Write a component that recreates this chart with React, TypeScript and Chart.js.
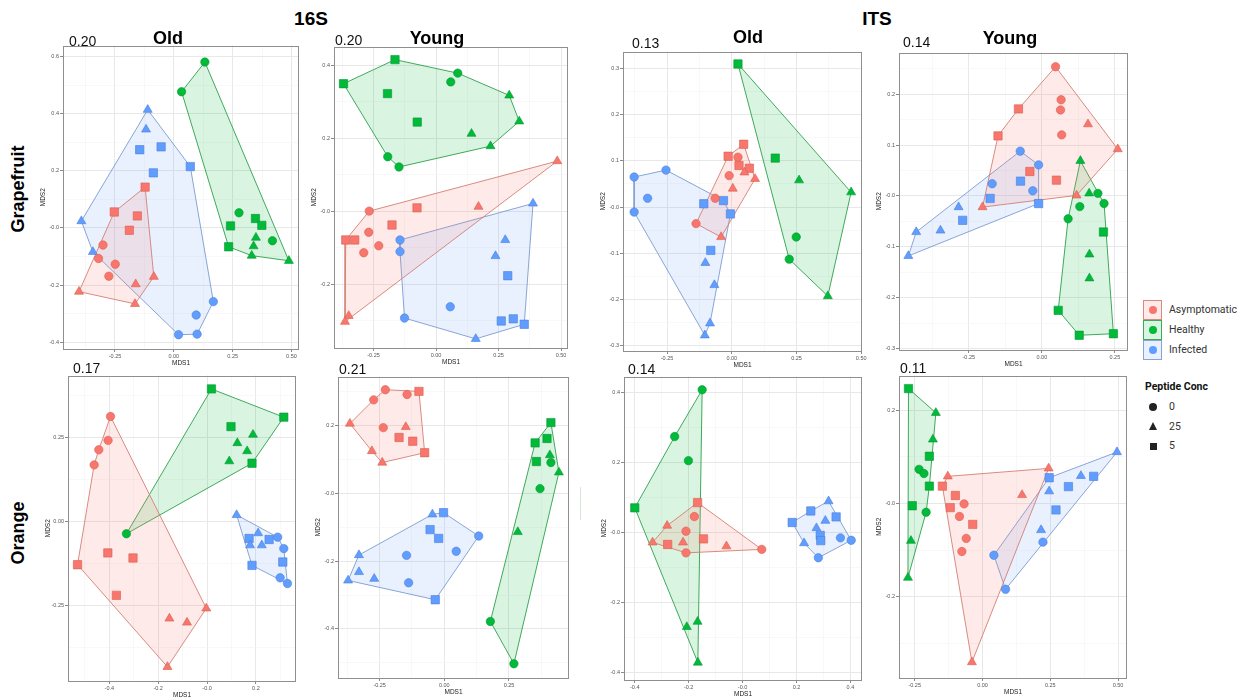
import React, { useEffect, useRef } from 'react';
import { Chart, registerables } from 'chart.js';
Chart.register(...registerables);

// ---------- categories ----------
const GROUPS = ['Asymptomatic', 'Healthy', 'Infected'];
const CONCS = [0, 25, 5];
const CONC_STYLE: Record<number, string> = { 0: 'circle', 25: 'triangle', 5: 'rect' };
const CONC_RADIUS: Record<number, number> = { 0: 4.2, 25: 5.2, 5: 5.9 };

const POINT_COLORS = ['#F8766D', '#00BA38', '#619CFF'];
const POINT_EDGES = ['#D8604F', '#08963A', '#4A80D8'];
const HULL_LINES = ['rgba(212,128,115,0.9)', 'rgba(45,160,75,0.9)', 'rgba(125,155,210,0.9)'];
const HULL_FILLS = ['rgba(248,118,109,0.15)', 'rgba(0,186,56,0.15)', 'rgba(97,156,255,0.14)'];

// ---------- data: [MDS1, MDS2, peptide conc] ----------
// 16S Grapefruit Old (stress 0.20)
const S16_GF_OLD_ASYM = [[-0.122,0.143,5],[-0.253,0.056,5],[-0.155,0.042,5],[-0.189,-0.008,5],[-0.301,-0.060,0],[-0.320,-0.107,0],[-0.249,-0.127,0],[-0.276,-0.169,0],[-0.085,-0.171,25],[-0.162,-0.197,25],[-0.403,-0.223,25],[-0.165,-0.266,25]];
const S16_GF_OLD_HEALTHY = [[0.132,0.581,0],[0.033,0.477,0],[0.277,0.053,0],[0.419,-0.045,0],[0.241,0.007,5],[0.347,0.033,5],[0.374,0.009,5],[0.233,-0.066,5],[0.349,-0.034,25],[0.339,-0.064,25],[0.331,-0.097,25],[0.489,-0.115,25]];
const S16_GF_OLD_INF = [[-0.111,0.414,25],[-0.118,0.345,25],[-0.145,0.274,5],[-0.054,0.284,5],[-0.087,0.193,5],[0.070,0.215,5],[-0.393,0.024,25],[-0.344,-0.084,25],[0.168,-0.258,0],[0.095,-0.305,0],[0.099,-0.372,0],[0.020,-0.374,0]];
// 16S Grapefruit Young (stress 0.20)
const S16_GF_YOUNG_ASYM = [[0.485,0.137,25],[0.170,0.012,25],[-0.076,0.009,5],[-0.176,-0.038,5],[-0.267,0.0,0],[-0.269,-0.058,0],[-0.361,-0.079,5],[-0.325,-0.079,5],[-0.229,-0.095,0],[-0.289,-0.114,0],[-0.349,-0.287,25],[-0.364,-0.303,25]];
const S16_GF_YOUNG_HEALTHY = [[-0.370,0.349,5],[-0.164,0.415,5],[-0.194,0.322,5],[-0.075,0.244,5],[0.087,0.378,0],[0.059,0.354,0],[0.293,0.317,25],[0.333,0.246,25],[0.142,0.212,25],[0.218,0.178,25],[-0.193,0.149,0],[-0.148,0.121,0]];
const S16_GF_YOUNG_INF = [[0.388,0.021,25],[0.277,-0.079,25],[0.238,-0.123,25],[0.287,-0.177,5],[-0.144,-0.079,0],[-0.144,-0.111,0],[0.057,-0.262,0],[-0.126,-0.293,0],[0.261,-0.301,5],[0.309,-0.295,5],[0.353,-0.310,5],[0.159,-0.350,25]];
// ITS Grapefruit Old (stress 0.13)
const ITS_GF_OLD_ASYM = [[0.046,0.136,5],[-0.014,0.110,5],[0.024,0.108,0],[0.028,0.090,5],[0.068,0.084,5],[0.049,0.075,25],[-0.010,0.068,0],[0.090,0.061,25],[0.004,0.040,25],[-0.064,0.019,0],[-0.138,-0.036,0],[-0.041,-0.065,25]];
const ITS_GF_OLD_HEALTHY = [[0.024,0.310,5],[0.168,0.106,5],[0.260,0.058,25],[0.461,0.032,25],[0.249,-0.065,0],[0.222,-0.113,0],[0.371,-0.193,25]];
const ITS_GF_OLD_INF = [[-0.377,0.065,0],[-0.254,0.080,0],[-0.325,0.019,0],[-0.377,-0.011,0],[-0.108,0.007,5],[-0.032,0.014,5],[-0.005,-0.015,5],[-0.081,-0.094,5],[-0.102,-0.121,25],[-0.067,-0.169,25],[-0.084,-0.252,25],[-0.104,-0.278,25]];
// ITS Grapefruit Young (stress 0.14)
const ITS_GF_YOUNG_ASYM = [[0.047,0.254,0],[0.066,0.189,0],[0.064,0.169,0],[-0.080,0.171,5],[0.158,0.141,25],[-0.150,0.118,5],[0.068,0.120,0],[0.260,0.092,25],[-0.041,0.048,5],[0.050,0.031,5],[0.119,0.001,25],[-0.203,-0.022,25]];
const ITS_GF_YOUNG_HEALTHY = [[0.132,0.069,25],[0.162,0.005,25],[0.192,0.005,0],[0.213,-0.015,0],[0.130,-0.021,0],[0.090,-0.045,0],[0.211,-0.071,5],[0.163,-0.115,25],[0.163,-0.162,25],[0.056,-0.225,5],[0.245,-0.271,5],[0.128,-0.274,5]];
const ITS_GF_YOUNG_INF = [[-0.074,0.088,0],[-0.011,0.061,0],[-0.170,0.024,0],[-0.073,0.029,5],[-0.031,0.010,0],[-0.177,-0.005,5],[-0.011,-0.015,5],[-0.285,-0.022,25],[-0.271,-0.048,5],[-0.347,-0.068,25],[-0.430,-0.071,25],[-0.457,-0.118,25]];
// 16S Orange Old (stress 0.17)
const S16_OR_OLD_ASYM = [[-0.395,0.312,0],[-0.405,0.241,0],[-0.443,0.213,0],[-0.462,0.168,0],[-0.406,-0.094,5],[-0.303,-0.109,5],[-0.530,-0.129,5],[-0.371,-0.220,5],[-0.003,-0.259,25],[-0.154,-0.289,25],[-0.082,-0.301,25],[-0.162,-0.433,25]];
const S16_OR_OLD_HEALTHY = [[0.018,0.394,5],[0.314,0.310,5],[0.098,0.282,5],[0.188,0.258,25],[0.124,0.233,25],[0.164,0.209,25],[0.091,0.179,25],[0.184,0.173,5],[-0.330,-0.037,0]];
const S16_OR_OLD_INF = [[0.121,0.019,25],[0.209,-0.035,25],[0.172,-0.051,5],[0.176,-0.071,25],[0.224,-0.071,25],[0.254,-0.054,5],[0.289,-0.047,0],[0.314,-0.081,0],[0.310,-0.121,5],[0.184,-0.131,5],[0.299,-0.168,0],[0.329,-0.185,0]];
// 16S Orange Young (stress 0.21)
const S16_OR_YOUNG_ASYM = [[-0.228,0.306,0],[-0.098,0.301,5],[-0.273,0.276,0],[-0.144,0.292,0],[-0.365,0.206,25],[-0.236,0.194,0],[-0.149,0.196,25],[-0.175,0.165,5],[-0.122,0.154,5],[-0.076,0.120,5],[-0.280,0.125,25],[-0.240,0.091,25]];
const S16_OR_YOUNG_HEALTHY = [[0.412,0.209,5],[0.351,0.149,5],[0.397,0.162,5],[0.408,0.113,25],[0.412,0.091,0],[0.356,0.094,5],[0.443,0.062,25],[0.370,0.014,0],[0.284,-0.114,25],[0.178,-0.378,0],[0.269,-0.503,0]];
const S16_OR_YOUNG_INF = [[-0.046,-0.062,25],[-0.003,-0.057,5],[-0.055,-0.107,5],[-0.022,-0.133,5],[0.133,-0.126,0],[0.046,-0.171,0],[-0.146,-0.183,0],[-0.330,-0.182,25],[-0.330,-0.232,25],[-0.271,-0.252,25],[-0.372,-0.257,25],[-0.138,-0.264,0],[-0.035,-0.314,5]];
// ITS Orange Old (stress 0.14)
const ITS_OR_OLD_ASYM = [[-0.167,0.086,5],[-0.179,0.046,0],[-0.280,0.020,25],[-0.210,0.004,0],[-0.145,-0.018,5],[-0.334,-0.028,25],[-0.221,-0.028,25],[-0.278,-0.034,5],[-0.210,-0.058,0],[-0.060,-0.039,25],[0.071,-0.048,0]];
const ITS_OR_OLD_HEALTHY = [[-0.150,0.409,0],[-0.252,0.275,0],[-0.201,0.206,0],[-0.400,0.071,5],[-0.207,-0.270,25],[-0.167,-0.255,25],[-0.166,-0.372,25]];
const ITS_OR_OLD_INF = [[0.319,0.090,25],[0.253,0.062,5],[0.307,0.034,25],[0.347,0.045,5],[0.184,0.029,5],[0.274,0.013,25],[0.288,-0.008,5],[0.290,-0.023,5],[0.228,-0.030,25],[0.363,-0.015,0],[0.403,-0.022,0],[0.281,-0.072,0]];
// ITS Orange Young (stress 0.11)
const ITS_OR_YOUNG_ASYM = [[0.244,0.075,25],[-0.128,0.058,25],[-0.148,0.037,5],[-0.100,0.017,5],[0.146,0.018,25],[-0.068,-0.001,0],[-0.119,-0.009,5],[-0.085,-0.028,0],[-0.036,-0.045,5],[-0.060,-0.075,0],[-0.076,-0.103,0],[-0.039,-0.340,25]];
const ITS_OR_YOUNG_HEALTHY = [[-0.273,0.246,5],[-0.172,0.194,25],[-0.183,0.137,25],[-0.196,0.101,5],[-0.234,0.073,0],[-0.216,0.064,0],[-0.196,0.037,5],[-0.259,-0.005,5],[-0.208,-0.019,0],[-0.264,-0.080,25],[-0.275,-0.159,25]];
const ITS_OR_YOUNG_INF = [[0.496,0.110,25],[0.363,0.059,25],[0.410,0.058,5],[0.246,0.055,5],[0.317,0.036,5],[0.246,0.026,25],[0.271,-0.014,5],[0.216,-0.057,25],[0.223,-0.083,0],[0.042,-0.111,0],[0.085,-0.184,0]];

// ---------- tick labels ----------
const TICKS_X_A = [-0.25, 0, 0.25, 0.5];
const TICKS_Y_A = [-0.4, -0.2, 0, 0.2, 0.4, 0.6];
const TICKS_X_B = [-0.25, 0, 0.25, 0.5];
const TICKS_Y_B = [-0.2, 0, 0.2, 0.4];
const TICKS_X_C = [-0.25, 0, 0.25, 0.5];
const TICKS_Y_C = [-0.3, -0.2, -0.1, 0, 0.1, 0.2, 0.3];
const TICKS_X_D = [-0.25, 0, 0.25];
const TICKS_Y_D = [-0.3, -0.2, -0.1, 0, 0.1, 0.2];
const TICKS_X_E = [-0.4, -0.2, 0, 0.2];
const TICKS_Y_E = [-0.25, 0, 0.25];
const TICKS_X_F = [-0.25, 0, 0.25];
const TICKS_Y_F = [-0.4, -0.2, 0, 0.2];
const TICKS_X_G = [-0.4, -0.2, 0, 0.2, 0.4];
const TICKS_Y_G = [-0.4, -0.2, 0, 0.2, 0.4];
const TICKS_X_H = [-0.25, 0, 0.25, 0.5];
const TICKS_Y_H = [-0.2, 0, 0.2];

const STRESS = ['0.20', '0.20', '0.13', '0.14', '0.17', '0.21', '0.14', '0.11'];

// ---------- layout (plot box in page pixels, axis ranges) ----------
const PANELS = [
  { box: [63, 45, 299, 349], xr: [-0.471, 0.532], yr: [-0.424, 0.639], xt: TICKS_X_A, yt: TICKS_Y_A, groups: [S16_GF_OLD_ASYM, S16_GF_OLD_HEALTHY, S16_GF_OLD_INF], stress: [69, 46] },
  { box: [334, 46, 568, 348], xr: [-0.408, 0.528], yr: [-0.375, 0.451], xt: TICKS_X_B, yt: TICKS_Y_B, groups: [S16_GF_YOUNG_ASYM, S16_GF_YOUNG_HEALTHY, S16_GF_YOUNG_INF], stress: [335, 45] },
  { box: [623, 51, 862, 351], xr: [-0.420, 0.503], yr: [-0.312, 0.337], xt: TICKS_X_C, yt: TICKS_Y_C, groups: [ITS_GF_OLD_ASYM, ITS_GF_OLD_HEALTHY, ITS_GF_OLD_INF], stress: [632, 48] },
  { box: [899, 52, 1128, 350], xr: [-0.489, 0.295], yr: [-0.303, 0.282], xt: TICKS_X_D, yt: TICKS_Y_D, groups: [ITS_GF_YOUNG_ASYM, ITS_GF_YOUNG_HEALTHY, ITS_GF_YOUNG_INF], stress: [903, 47] },
  { box: [68, 375, 296, 681], xr: [-0.569, 0.364], yr: [-0.475, 0.434], xt: TICKS_X_E, yt: TICKS_Y_E, groups: [S16_OR_OLD_ASYM, S16_OR_OLD_HEALTHY, S16_OR_OLD_INF], stress: [73, 373] },
  { box: [338, 376, 569, 678], xr: [-0.411, 0.482], yr: [-0.545, 0.345], xt: TICKS_X_F, yt: TICKS_Y_F, groups: [S16_OR_YOUNG_ASYM, S16_OR_YOUNG_HEALTHY, S16_OR_YOUNG_INF], stress: [339, 374] },
  { box: [624, 376, 862, 680], xr: [-0.440, 0.443], yr: [-0.422, 0.447], xt: TICKS_X_G, yt: TICKS_Y_G, groups: [ITS_OR_OLD_ASYM, ITS_OR_OLD_HEALTHY, ITS_OR_OLD_INF], stress: [628, 374] },
  { box: [899, 375, 1127, 678], xr: [-0.308, 0.533], yr: [-0.374, 0.274], xt: TICKS_X_H, yt: TICKS_Y_H, groups: [ITS_OR_YOUNG_ASYM, ITS_OR_YOUNG_HEALTHY, ITS_OR_YOUNG_INF], stress: [900, 373] },
];

const YW = 24;
const XH = 19;
const PT = 6;
const PR = 10;
const FONT = '"Liberation Sans", Arial, Helvetica, sans-serif';
const LEG_FONT = 'Roboto, "Noto Sans", "Liberation Sans", sans-serif';

function convexHull(pts: number[][]) {
  const p = pts.map((q) => [q[0], q[1]]).sort((a, b) => a[0] - b[0] || a[1] - b[1]);
  const cross = (o: number[], a: number[], b: number[]) => (a[0] - o[0]) * (b[1] - o[1]) - (a[1] - o[1]) * (b[0] - o[0]);
  const lower: number[][] = [];
  for (const q of p) {
    while (lower.length >= 2 && cross(lower[lower.length - 2], lower[lower.length - 1], q) <= 0) lower.pop();
    lower.push(q);
  }
  const upper: number[][] = [];
  for (let i = p.length - 1; i >= 0; i--) {
    const q = p[i];
    while (upper.length >= 2 && cross(upper[upper.length - 2], upper[upper.length - 1], q) <= 0) upper.pop();
    upper.push(q);
  }
  upper.pop();
  lower.pop();
  return lower.concat(upper);
}

function buildTicks(major: number[], range: number[]) {
  const step = major[1] - major[0];
  const out: any[] = [];
  const start = major[0] - Math.ceil((major[0] - range[0]) / step) * step;
  for (let v = start - step / 2; v <= range[1] + 1e-9; v += step / 2) {
    if (v < range[0] - 1e-9) continue;
    const isMajor = major.some((m) => Math.abs(m - v) < 1e-6);
    out.push({ value: v, minor: !isMajor });
  }
  return out;
}

function decimals(major: number[]) {
  const step = Math.abs(major[1] - major[0]);
  return Math.abs(Math.round(step * 100) % 10) === 0 ? 1 : 2;
}

const framePlugin = {
  id: 'frame',
  afterDraw(chart: any) {
    const { ctx, chartArea: a } = chart;
    ctx.save();
    ctx.strokeStyle = '#8f8f8f';
    ctx.lineWidth = 1;
    ctx.strokeRect(Math.round(a.left) + 0.5, Math.round(a.top) + 0.5, Math.round(a.right - a.left) - 1, Math.round(a.bottom - a.top) - 1);
    ctx.restore();
  },
};

function makeScale(axis: 'x' | 'y', range: number[], major: number[], title: string) {
  const dec = decimals(major);
  return {
    type: 'linear',
    min: range[0],
    max: range[1],
    afterBuildTicks: (s: any) => {
      s.ticks = buildTicks(major, range);
    },
    afterFit: (s: any) => {
      if (axis === 'x') s.height = XH;
      else s.width = YW;
    },
    grid: {
      color: (c: any) => (c.tick && c.tick.minor ? '#F4F4F4' : '#E8E8E8'),
      lineWidth: (c: any) => (c.tick && c.tick.minor ? 0.6 : 1),
      tickLength: 3,
      tickColor: (c: any) => (c.tick && c.tick.minor ? 'rgba(0,0,0,0)' : '#8a8a8a'),
      drawTicks: true,
    },
    border: { display: false },
    ticks: {
      autoSkip: false,
      maxRotation: 0,
      padding: 1,
      font: { size: 5.5, family: FONT },
      color: '#555',
      callback: (v: number, i: number, ts: any[]) => (ts[i] && ts[i].minor ? '' : Number(v).toFixed(dec)),
    },
    title: {
      display: true,
      text: title,
      font: { size: 6.5, family: FONT },
      color: '#222',
      padding: { top: 0, bottom: 1 },
    },
  };
}

function Panel({ cfg }: { cfg: any }) {
  const ref = useRef<HTMLCanvasElement>(null);
  const [l, t, r, b] = cfg.box;
  const w = YW + (r - l) + PR;
  const h = PT + (b - t) + XH;
  useEffect(() => {
    const datasets: any[] = [];
    cfg.groups.forEach((g: number[][], gi: number) => {
      const hl = convexHull(g);
      const closed = [...hl, hl[0]].map((q) => ({ x: q[0], y: q[1] }));
      datasets.push({
        label: GROUPS[gi] + ' hull',
        data: closed,
        showLine: true,
        fill: 'shape',
        tension: 0,
        borderColor: HULL_LINES[gi],
        backgroundColor: HULL_FILLS[gi],
        borderWidth: 1,
        pointRadius: 0,
        pointHoverRadius: 0,
        order: 1,
      });
    });
    cfg.groups.forEach((g: number[][], gi: number) => {
      CONCS.forEach((c) => {
        datasets.push({
          label: GROUPS[gi] + ' ' + c,
          data: g.filter((p) => p[2] === c).map((p) => ({ x: p[0], y: p[1] })),
          showLine: false,
          pointStyle: CONC_STYLE[c],
          pointRadius: CONC_RADIUS[c],
          pointHoverRadius: CONC_RADIUS[c],
          backgroundColor: POINT_COLORS[gi],
          borderColor: POINT_EDGES[gi],
          borderWidth: 0.6,
          order: 0,
        });
      });
    });
    const chart = new Chart(ref.current as HTMLCanvasElement, {
      type: 'scatter',
      data: { datasets },
      options: {
        responsive: false,
        animation: false,
        events: [],
        layout: { padding: { top: PT, right: PR, left: 0, bottom: 0 } },
        plugins: { legend: { display: false }, tooltip: { enabled: false } },
        scales: {
          x: makeScale('x', cfg.xr, cfg.xt, 'MDS1'),
          y: makeScale('y', cfg.yr, cfg.yt, 'MDS2'),
        },
      } as any,
      plugins: [framePlugin],
    });
    return () => chart.destroy();
  }, []);
  return (
    <canvas
      ref={ref}
      width={w}
      height={h}
      style={{ position: 'absolute', left: l - YW, top: t - PT, width: w, height: h }}
    />
  );
}

function Txt({ x, y, size, bold, center, family, children, color }: any) {
  return (
    <div
      style={{
        position: 'absolute',
        left: x,
        top: y - size * 0.8465,
        fontSize: size,
        lineHeight: size + 'px',
        fontWeight: bold ? 700 : 400,
        fontFamily: family || FONT,
        color: color || '#000',
        whiteSpace: 'nowrap',
        transform: center ? 'translateX(-50%)' : undefined,
      }}
    >
      {children}
    </div>
  );
}

function LegendKey({ y, gi }: { y: number; gi: number }) {
  return (
    <div style={{ position: 'absolute', left: 1143, top: y, width: 17, height: 18, border: '1px solid ' + HULL_LINES[gi], background: HULL_FILLS[gi] }}>
      <div style={{ position: 'absolute', left: 5, top: 5, width: 8, height: 8, borderRadius: '50%', background: POINT_COLORS[gi] }} />
    </div>
  );
}

export default function App() {
  return (
    <div style={{ position: 'absolute', left: 0, top: 0, width: 1245, height: 700, background: '#fff', overflow: 'hidden', fontFamily: FONT }}>
      {PANELS.map((p, i) => (
        <Panel key={i} cfg={p} />
      ))}
      {PANELS.map((p, i) => (
        <Txt key={'s' + i} x={p.stress[0]} y={p.stress[1]} size={14} family={'"Liberation Sans Narrow", "Liberation Sans", Arial, sans-serif'} color="#111">
          {STRESS[i]}
        </Txt>
      ))}
      <Txt x={311} y={25} size={19} bold center>16S</Txt>
      <Txt x={877} y={25} size={19} bold center>ITS</Txt>
      <Txt x={168} y={44} size={18} bold center>Old</Txt>
      <Txt x={437} y={44} size={18} bold center>Young</Txt>
      <Txt x={748} y={43} size={18} bold center>Old</Txt>
      <Txt x={1010} y={44} size={18} bold center>Young</Txt>
      <div style={{ position: 'absolute', left: 18, top: 189, transform: 'translate(-50%,-50%) rotate(-90deg)', fontSize: 18, fontWeight: 700, whiteSpace: 'nowrap', lineHeight: '20px' }}>Grapefruit</div>
      <div style={{ position: 'absolute', left: 18, top: 533, transform: 'translate(-50%,-50%) rotate(-90deg)', fontSize: 18, fontWeight: 700, whiteSpace: 'nowrap', lineHeight: '20px' }}>Orange</div>
      <div style={{ position: 'absolute', left: 580, top: 487, width: 1, height: 33, background: '#d5e8d8' }} />
      {/* legend */}
      <LegendKey y={300} gi={0} />
      <LegendKey y={320} gi={1} />
      <LegendKey y={340} gi={2} />
      <Txt x={1169} y={314} size={10.5} family={LEG_FONT} color="#333">{GROUPS[0]}</Txt>
      <Txt x={1169} y={334} size={10.5} family={LEG_FONT} color="#333">{GROUPS[1]}</Txt>
      <Txt x={1169} y={354} size={10.5} family={LEG_FONT} color="#333">{GROUPS[2]}</Txt>
      <Txt x={1145} y={391} size={10.5} bold family={LEG_FONT} color="#111">Peptide Conc</Txt>
      <div style={{ position: 'absolute', left: 1149, top: 403, width: 8, height: 8, borderRadius: '50%', background: '#222' }} />
      <div style={{ position: 'absolute', left: 1148.5, top: 422, width: 0, height: 0, borderLeft: '4.5px solid transparent', borderRight: '4.5px solid transparent', borderBottom: '8px solid #222' }} />
      <div style={{ position: 'absolute', left: 1149.5, top: 442.5, width: 7, height: 7, background: '#222' }} />
      <Txt x={1169} y={411} size={10.5} family={LEG_FONT} color="#333">{CONCS[0]}</Txt>
      <Txt x={1169} y={431} size={10.5} family={LEG_FONT} color="#333">{CONCS[1]}</Txt>
      <Txt x={1169} y={450} size={10.5} family={LEG_FONT} color="#333">{CONCS[2]}</Txt>
    </div>
  );
}
